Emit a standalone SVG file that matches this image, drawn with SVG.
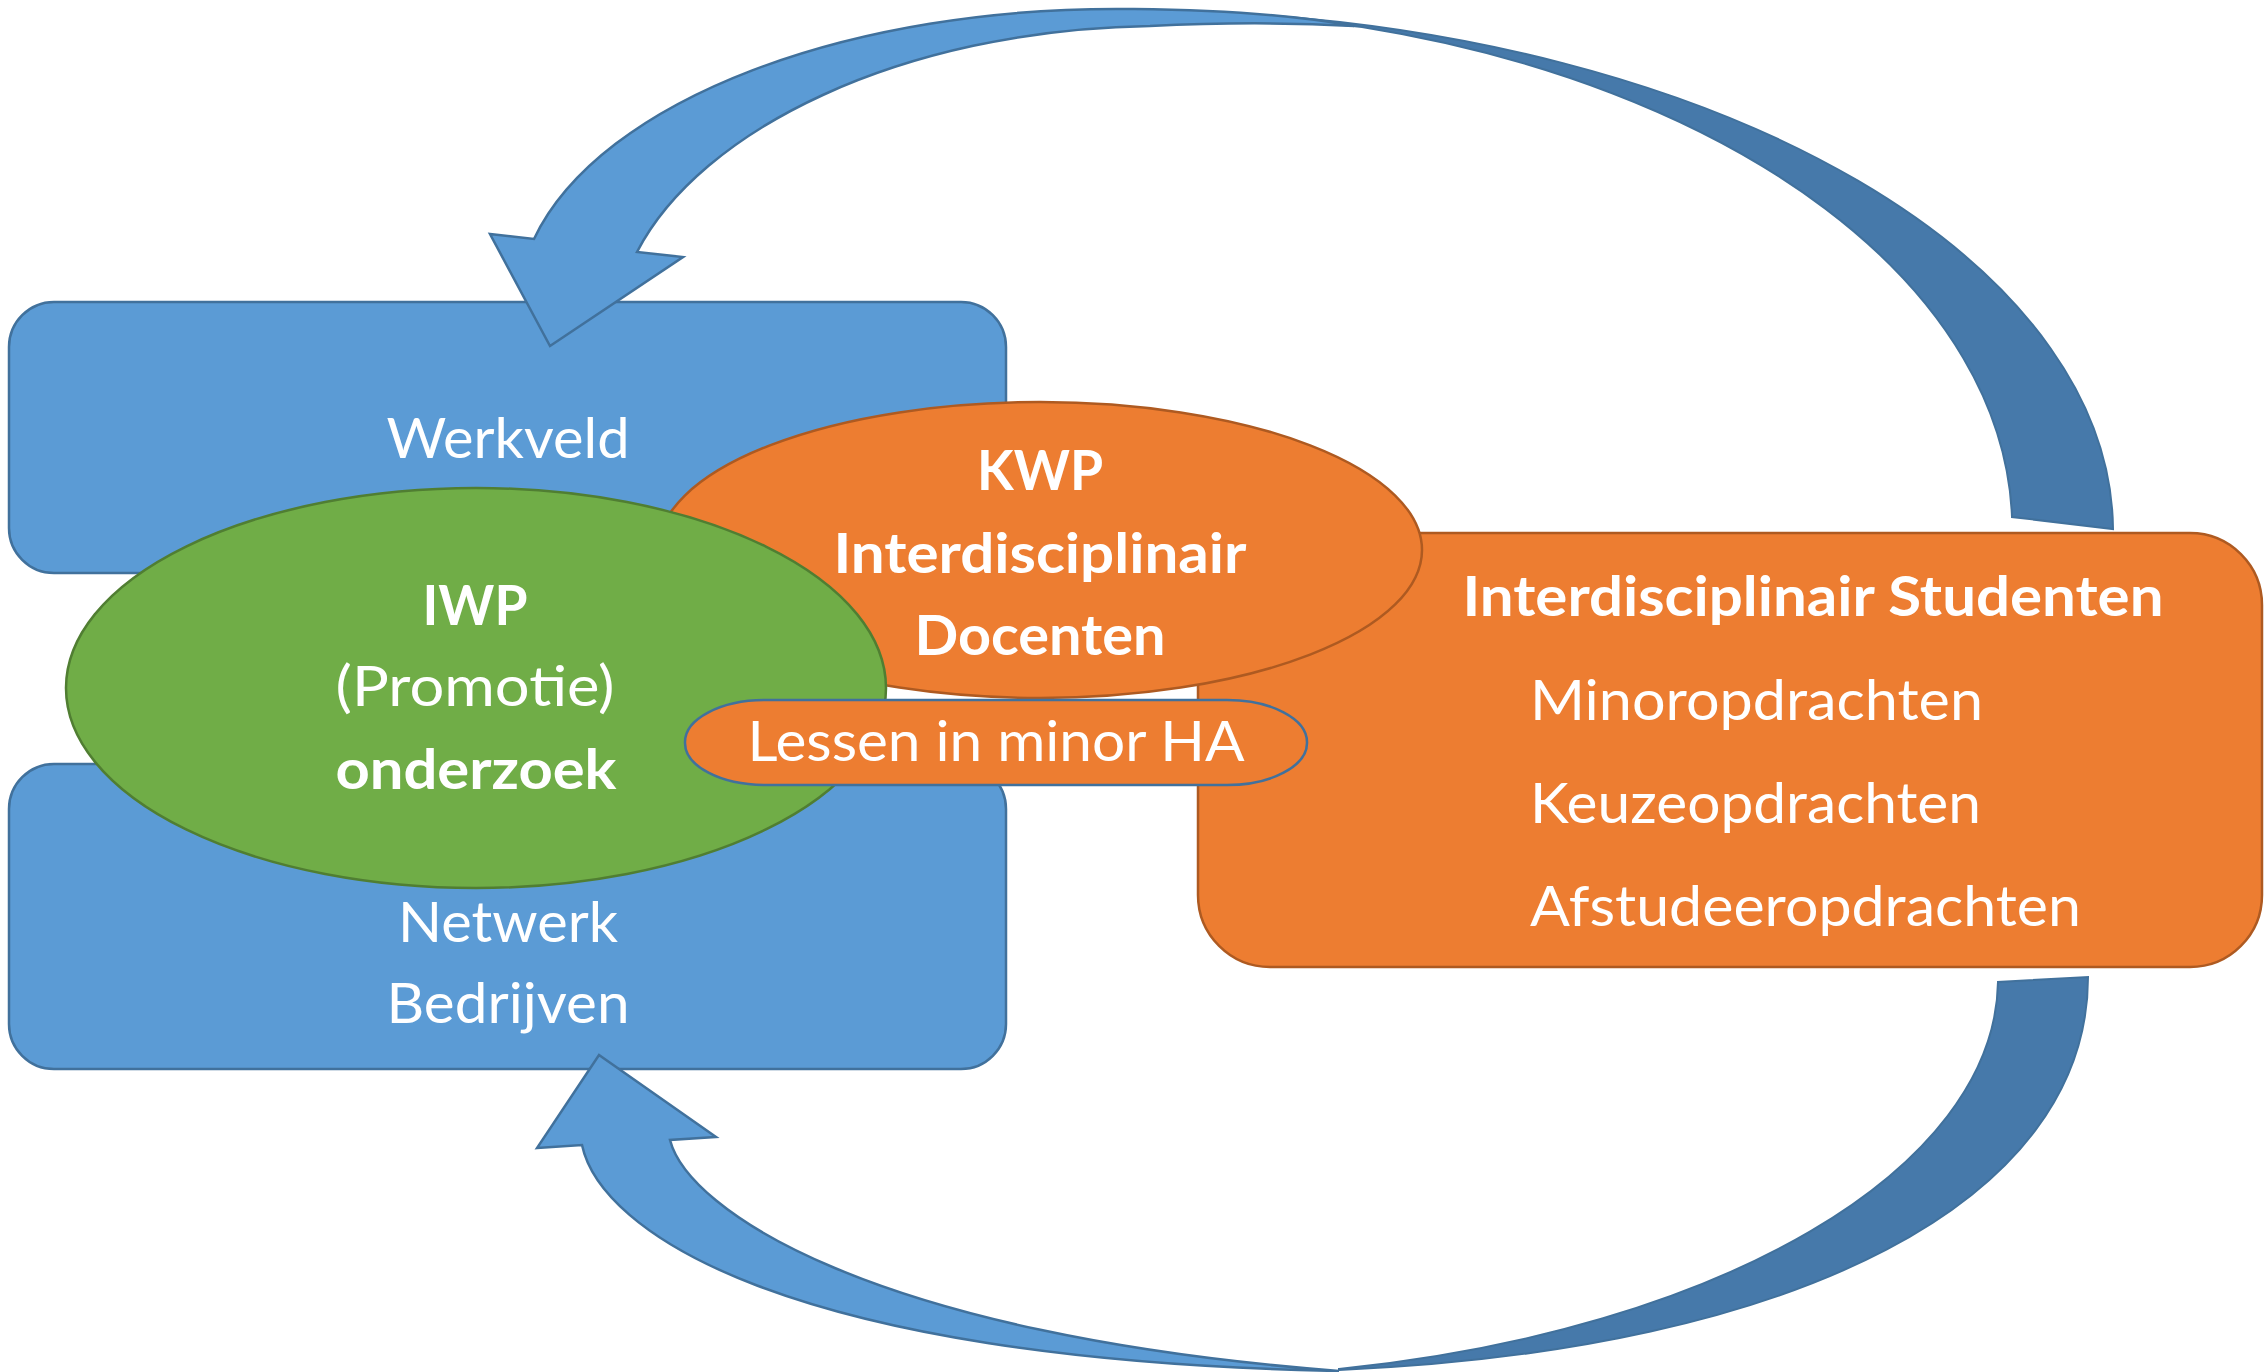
<svg xmlns="http://www.w3.org/2000/svg" width="2264" height="1372" viewBox="0 0 2264 1372">
<style>
.blue{fill:#5B9BD5;stroke:#41719C;stroke-width:2.5}
.orange{fill:#ED7D31;stroke:#AE5A21;stroke-width:2.5}
.green{fill:#70AD47;stroke:#507E32;stroke-width:2.5}
.pill{fill:#ED7D31;stroke:#41719C;stroke-width:2.5}
.arrowL{fill:#5B9BD5;stroke:#41719C;stroke-width:2.5;stroke-linejoin:miter}
.arrowD{fill:#4679AA;stroke:#41719C;stroke-width:2}
text{font-family:Lato,'Open Sans',sans-serif;fill:#fff;font-size:56px}
.b{font-weight:bold}
.m{text-anchor:middle}
</style>
<rect width="2264" height="1372" fill="#fff"/>
<g id="werkveld">
<rect class="blue" x="9" y="302" width="997" height="271" rx="45" ry="45"/>
<text class="m" x="508" y="458" textLength="243" lengthAdjust="spacingAndGlyphs">Werkveld</text>
</g>
<g id="netwerk">
<rect class="blue" x="9" y="764" width="997" height="305" rx="45" ry="45"/>
<text class="m" x="508" y="942" textLength="220" lengthAdjust="spacingAndGlyphs">Netwerk</text>
<text class="m" x="508" y="1023" textLength="243" lengthAdjust="spacingAndGlyphs">Bedrijven</text>
</g>
<g id="studenten">
<rect class="orange" x="1198" y="533" width="1064" height="434" rx="72" ry="72"/>
<text class="m b" x="1813" y="616" textLength="701" lengthAdjust="spacingAndGlyphs">Interdisciplinair Studenten</text>
<text x="1530" y="720" textLength="453" lengthAdjust="spacingAndGlyphs">Minoropdrachten</text>
<text x="1530" y="823" textLength="451" lengthAdjust="spacingAndGlyphs">Keuzeopdrachten</text>
<text x="1530" y="926" textLength="551" lengthAdjust="spacingAndGlyphs">Afstudeeropdrachten</text>
</g>
<g id="kwp">
<ellipse class="orange" cx="1040" cy="550" rx="382" ry="148"/>
<text class="m b" x="1040" y="490" textLength="126" lengthAdjust="spacingAndGlyphs">KWP</text>
<text class="m b" x="1040" y="573" textLength="413" lengthAdjust="spacingAndGlyphs">Interdisciplinair</text>
<text class="m b" x="1040" y="655" textLength="251" lengthAdjust="spacingAndGlyphs">Docenten</text>
</g>
<g id="iwp">
<ellipse class="green" cx="476" cy="688" rx="410" ry="200"/>
<text class="m b" x="475" y="625" textLength="105" lengthAdjust="spacingAndGlyphs">IWP</text>
<text class="m" x="475" y="706" textLength="279" lengthAdjust="spacingAndGlyphs">(Promotie)</text>
<text class="m b" x="476" y="789" textLength="281" lengthAdjust="spacingAndGlyphs">onderzoek</text>
</g>
<g id="lessen">
<rect class="pill" x="685" y="700" width="622" height="85" rx="80" ry="42"/>
<text class="m" x="996" y="761" textLength="497" lengthAdjust="spacingAndGlyphs">Lessen in minor HA</text>
</g>
<g id="connectors">
<path class="arrowD" d="M1230,13 A979,521 0 0 1 2113,529 L2012,517 A882,520 0 0 0 1362,27 Z"/>
<path class="arrowL" d="M490,234 L534,239 C600,100 850,5 1134,9 C1230,10 1300,16 1354,26 C1300,23 1230,22 1150,26 C900,30 700,130 637,252 L683,257 L550,346 Z"/>
<path class="arrowD" d="M1339,1370 C1800,1350 2088,1200 2088,977 L1998,982 C1995,1170 1720,1330 1339,1369 Z"/>
<path class="arrowL" d="M537,1148 L582,1145 C600,1230 780,1360 1339,1371 C870,1335 688,1210 670,1140 L716,1137 L599,1055 Z"/>
</g>
</svg>
